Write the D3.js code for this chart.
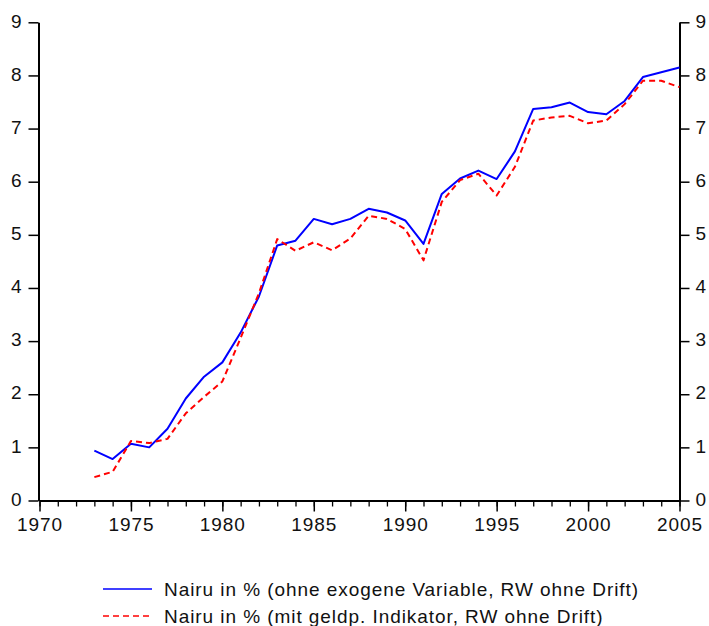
<!DOCTYPE html>
<html>
<head>
<meta charset="utf-8">
<script src="https://cdn.jsdelivr.net/npm/d3@7"></script>
<style>
  html, body { margin: 0; padding: 0; background: #fff; }
  svg { display: block; }
  text { font-family: "Liberation Sans", Arial, sans-serif; font-size: 19px; fill: #111; }
</style>
</head>
<body>
<svg id="chart" width="709" height="626"></svg>
<script>
const years = d3.range(1973, 2006);
const nairuOhne = [0.94, 0.78, 1.07, 1.00, 1.35, 1.92, 2.33, 2.60, 3.16, 3.84, 4.80, 4.89, 5.30, 5.20, 5.30, 5.49, 5.42, 5.27, 4.83, 5.77, 6.06, 6.21, 6.05, 6.57, 7.37, 7.40, 7.49, 7.31, 7.27, 7.52, 7.97, 8.06, 8.15];
const nairuMit  = [0.44, 0.54, 1.12, 1.08, 1.16, 1.64, 1.95, 2.24, 3.06, 3.90, 4.92, 4.70, 4.86, 4.71, 4.93, 5.36, 5.30, 5.11, 4.52, 5.62, 6.03, 6.15, 5.74, 6.28, 7.15, 7.21, 7.24, 7.10, 7.15, 7.46, 7.90, 7.90, 7.78];
const yTicks = [0, 1, 2, 3, 4, 5, 6, 7, 8, 9];
const xMajorTicks = [1970, 1975, 1980, 1985, 1990, 1995, 2000, 2005];
const xMinorTicks = d3.range(1970, 2006);
const seriesNames = [
  "Nairu in % (ohne exogene Variable, RW ohne Drift)",
  "Nairu in % (mit geldp. Indikator, RW ohne Drift)"
];
const seriesColors = ["#0000ff", "#ff0000"];
const seriesDash = [null, "6,4"];

const svg = d3.select("#chart");
const x = d3.scaleLinear().domain([1970, 2005]).range([39.5, 679.5]);
const y = d3.scaleLinear().domain([0, 9]).range([500.5, 22.3]);

// legend first, to measure text and derive letter spacing
const legend = svg.append("g");
const legendTexts = [];
seriesNames.forEach((name, k) => {
  const ly = 589 + k * 27;
  legend.append("line")
    .attr("x1", 103).attr("x2", 152)
    .attr("y1", ly).attr("y2", ly)
    .attr("stroke", seriesColors[k])
    .attr("stroke-width", 1.6)
    .attr("stroke-dasharray", seriesDash[k]);
  legendTexts.push(legend.append("text")
    .attr("x", 164).attr("y", ly + 6.5)
    .text(name));
});
const w0 = legendTexts[0].node().getComputedTextLength();
let ls = (475 - w0) / (seriesNames[0].length);
ls = Math.max(0, Math.min(2.5, ls));
legendTexts.forEach(t => t.style("letter-spacing", ls + "px"));

const styleText = g => g.selectAll("text")
  .attr("font-size", 19).attr("fill", "#111").attr("font-family", null)
  .style("letter-spacing", ls + "px");

// minor x ticks
svg.append("g")
  .attr("transform", `translate(0,${y(0)})`)
  .call(d3.axisBottom(x).tickValues(xMinorTicks).tickSize(6).tickSizeOuter(0).tickFormat(""))
  .call(g => g.select(".domain").remove())
  .call(g => g.selectAll("line").attr("stroke", "#000").attr("stroke-width", 1.3));

// major x axis
svg.append("g")
  .attr("transform", `translate(0,${y(0)})`)
  .call(d3.axisBottom(x).tickValues(xMajorTicks).tickSize(11).tickSizeOuter(0).tickPadding(6).tickFormat(d3.format("d")))
  .call(g => g.select(".domain").attr("stroke", "#000").attr("stroke-width", 2))
  .call(g => g.selectAll("line").attr("stroke", "#000").attr("stroke-width", 1.5))
  .call(styleText);

// left axis
svg.append("g")
  .attr("transform", `translate(${x(1970) - 1},0)`)
  .call(d3.axisLeft(y).tickValues(yTicks).tickSize(10).tickSizeOuter(0).tickPadding(6).tickFormat(d3.format("d")))
  .call(g => g.select(".domain").attr("stroke", "#000").attr("stroke-width", 2))
  .call(g => g.selectAll("line").attr("stroke", "#000").attr("stroke-width", 1.5))
  .call(styleText)
  .call(g => g.selectAll("text").attr("dy", "0.25em"));

// right axis
svg.append("g")
  .attr("transform", `translate(${x(2005)},0)`)
  .call(d3.axisRight(y).tickValues(yTicks).tickSize(10).tickSizeOuter(0).tickPadding(6).tickFormat(d3.format("d")))
  .call(g => g.select(".domain").attr("stroke", "#000").attr("stroke-width", 2))
  .call(g => g.selectAll("line").attr("stroke", "#000").attr("stroke-width", 1.5))
  .call(styleText)
  .call(g => g.selectAll("text").attr("dy", "0.25em"));

// lines
const line = d3.line().x((d, i) => x(years[i])).y(d => y(d));
[nairuOhne, nairuMit].forEach((s, k) => {
  svg.append("path")
    .datum(s)
    .attr("fill", "none")
    .attr("stroke", seriesColors[k])
    .attr("stroke-width", 2)
    .attr("stroke-dasharray", seriesDash[k])
    .attr("stroke-linejoin", "round")
    .attr("d", line);
});
</script>
</body>
</html>
